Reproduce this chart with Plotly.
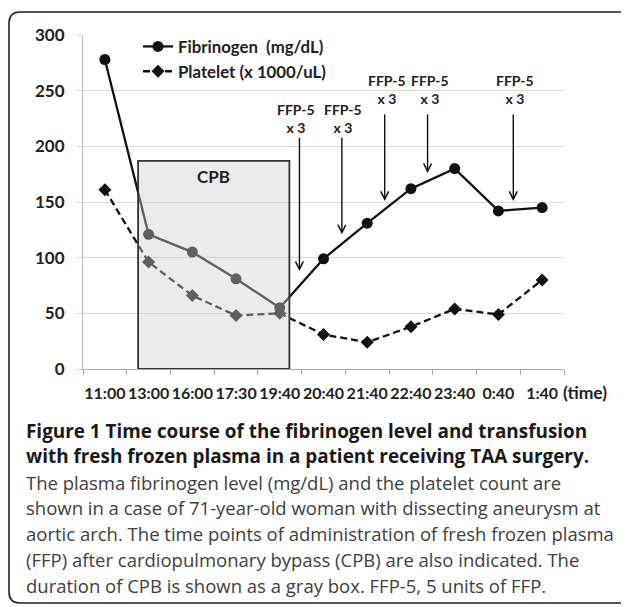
import plotly.graph_objects as go

# ---- data ----
times = ["11:00", "13:00", "16:00", "17:30", "19:40", "20:40", "21:40", "22:40", "23:40", "0:40", "1:40"]
fibrinogen = [278, 121, 105, 81, 55, 99, 131, 162, 180, 142, 145]
platelet = [161, 96, 66, 48, 50, 31, 24, 38, 54, 49, 80]
y_ticks = [0, 50, 100, 150, 200, 250, 300]

# CPB period (category-index span) and box height
cpb_span = [0.76, 4.22]
cpb_top = 187

# FFP administrations: arrow x (category index), arrow tail value, arrow tip value, label position
ffp_x = [4.45, 5.42, 6.40, 7.38, 9.34]
ffp_tail = [209, 209, 230, 230, 230]
ffp_tip = [88, 121, 151, 176, 151]
ffp_label_x = [4.36, 5.45, 6.45, 7.43, 9.38]
ffp_label_y = [225, 225, 251, 251, 251]

# page is drawn with the browser's default 8px body margin
OFF = 8
W, H = 621, 599
ML, MR, MT, MB = 75, 65, 27, 238
PW, PH = W - ML - MR, H - MT - MB


def X(px):
    return (px - OFF - ML) / PW


def Y(py):
    return (H - MB - (py - OFF)) / PH


font_main = "Lato, 'Open Sans', sans-serif"
font_cap = "'Open Sans', sans-serif"

fig = go.Figure()
fig.add_trace(go.Scatter(
    x=times, y=fibrinogen, mode="lines+markers", name="Fibrinogen  (mg/dL)",
    legendgroup="f",
    line=dict(color="#111111", width=2.3),
    marker=dict(symbol="circle", size=11, color="#111111"),
))
fig.add_trace(go.Scatter(
    x=times, y=platelet, mode="lines+markers", name="Platelet (x 1000/uL)",
    legendgroup="p",
    line=dict(color="#111111", width=2.3, dash="7px,4px"),
    marker=dict(symbol="diamond", size=10, color="#111111"),
))

shapes = [
    dict(type="rect", xref="x", yref="y", x0=cpb_span[0], x1=cpb_span[1], y0=0, y1=cpb_top,
         fillcolor="rgba(207,207,207,0.42)", line=dict(color="#333333", width=1.8), layer="above"),
]

# rounded outer frame
L, R, T, B = X(9), X(660), Y(12), Y(603)
rx, ry = 11 / PW, 11 / PH
frame_path = (f"M {L},{B + ry} L {L},{T - ry} Q {L},{T} {L + rx},{T} L {R},{T} "
              f"M {L},{B + ry} Q {L},{B} {L + rx},{B} L {R},{B}")
shapes.append(dict(type="path", xref="paper", yref="paper", path=frame_path,
                   line=dict(color="#222222", width=1.6)))

annotations = []
annotations.append(dict(x=sum(cpb_span) / 2, y=173, xref="x", yref="y", text="CPB",
                        showarrow=False,
                        font=dict(family=font_main, size=17, color="#222222", weight="bold")))

for i in range(len(ffp_x)):
    annotations.append(dict(x=ffp_x[i], y=ffp_tip[i], ax=ffp_x[i], ay=ffp_tail[i],
                            xref="x", yref="y", axref="x", ayref="y", text="",
                            showarrow=True, arrowhead=5, arrowsize=1.1, arrowwidth=1.4,
                            arrowcolor="#111111", standoff=0, startstandoff=0))
    annotations.append(dict(x=ffp_label_x[i], y=ffp_label_y[i], xref="x", yref="y",
                            text="FFP-5<br>x 3", showarrow=False,
                            font=dict(family=font_main, size=14, color="#222222", weight="bold")))

annotations.append(dict(x=X(561), y=Y(393), xref="paper", yref="paper", text="(time)",
                        xanchor="left", yanchor="middle", showarrow=False,
                        font=dict(family=font_main, size=17.5, color="#222222", weight="bold")))

caption_bold = [
    "Figure 1 Time course of the fibrinogen level and transfusion",
    "with fresh frozen plasma in a patient receiving TAA surgery.",
]
caption_body = [
    "The plasma fibrinogen level (mg/dL) and the platelet count are",
    "shown in a case of 71-year-old woman with dissecting aneurysm at",
    "aortic arch. The time points of administration of fresh frozen plasma",
    "(FFP) after cardiopulmonary bypass (CPB) are also indicated. The",
    "duration of CPB is shown as a gray box. FFP-5, 5 units of FFP.",
]
cap_y = [431, 456, 482, 507, 533, 559, 585]
for i, line in enumerate(caption_bold):
    annotations.append(dict(x=X(24), y=Y(cap_y[i]), xref="paper", yref="paper",
                            text=line, xanchor="left", yanchor="middle",
                            showarrow=False,
                            font=dict(family=font_cap, size=18.9, color="#1a1a1a", weight="bold")))
for j, line in enumerate(caption_body):
    annotations.append(dict(x=X(24), y=Y(cap_y[j + 2]), xref="paper", yref="paper",
                            text=line, xanchor="left", yanchor="middle", showarrow=False,
                            font=dict(family=font_cap, size=18.5, color="#404040")))

fig.update_layout(
    width=W, height=H,
    margin=dict(l=ML, r=MR, t=MT, b=MB, pad=0),
    paper_bgcolor="white", plot_bgcolor="white",
    showlegend=True,
    legend=dict(x=X(138), y=Y(29), xanchor="left", yanchor="top",
                bgcolor="rgba(0,0,0,0)", traceorder="grouped", tracegroupgap=0,
                font=dict(family=font_main, size=16.8, color="#222222", weight="bold"),
                itemwidth=30),
    shapes=shapes,
    annotations=annotations,
    font=dict(family=font_main),
)
fig.update_xaxes(
    type="category", categoryorder="array", categoryarray=times,
    range=[-0.5, len(times) - 0.5],
    showline=True, linecolor="#a6a6a6", linewidth=1,
    ticks="outside", ticklen=5, tickcolor="#a6a6a6", tickson="boundaries",
    showgrid=False, zeroline=False, tickangle=0,
    tickfont=dict(family=font_main, size=16, color="#222222", weight="bold"),
    ticklabelstandoff=10,
)
fig.update_yaxes(
    range=[0, 300], tickvals=y_ticks,
    showline=True, linecolor="#bfbfbf", linewidth=1,
    ticks="outside", ticklen=6, tickcolor="#d9d9d9",
    showgrid=True, gridcolor="#d9d9d9", gridwidth=1, zeroline=False,
    tickfont=dict(family=font_main, size=17, color="#222222", weight="bold"),
    ticklabelstandoff=8,
)

fig.write_html("out.html")
